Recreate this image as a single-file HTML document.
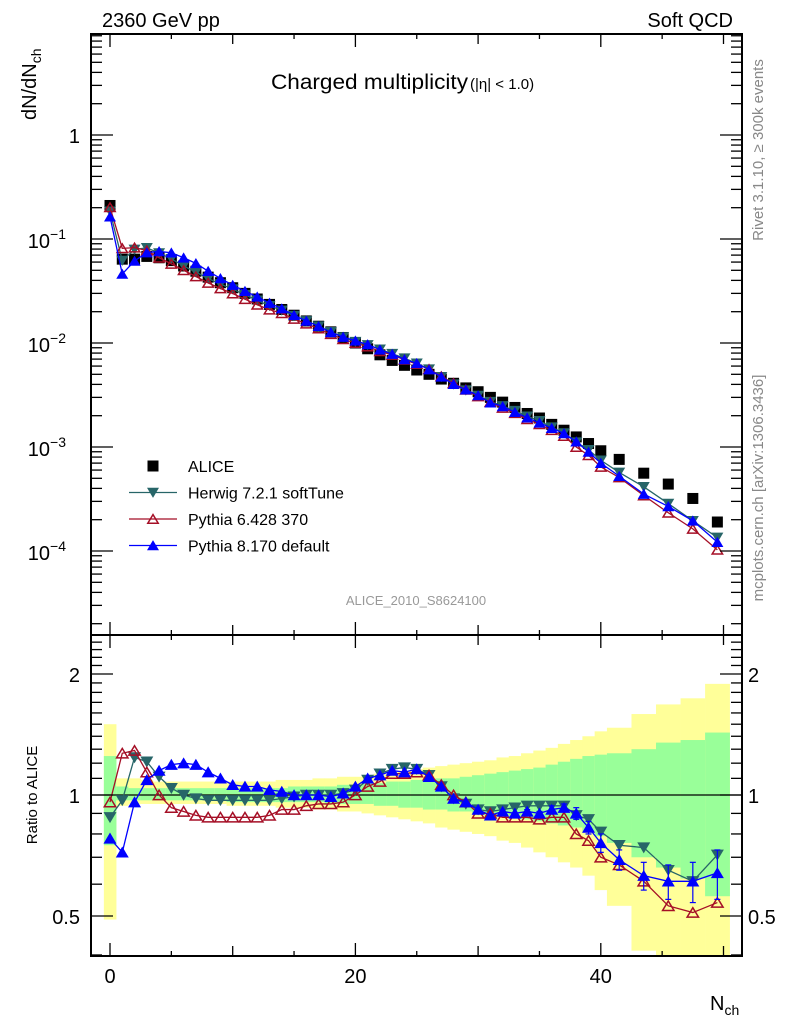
<!DOCTYPE html>
<html><head><meta charset="utf-8">
<style>
html,body{margin:0;padding:0;background:#fff;}
svg{display:block;font-family:"Liberation Sans",sans-serif;}
</style></head>
<body>
<svg id="chart" width="786" height="1024" viewBox="0 0 786 1024" xmlns="http://www.w3.org/2000/svg"></svg>
<script>
const binCenters=[0,1,2,3,4,5,6,7,8,9,10,11,12,13,14,15,16,17,18,19,20,21,22,23,24,25,26,27,28,29,30,31,32,33,34,35,36,37,38,39,40,41.5,43.5,45.5,47.5,49.5];
const binEdges=[-0.5,0.5,1.5,2.5,3.5,4.5,5.5,6.5,7.5,8.5,9.5,10.5,11.5,12.5,13.5,14.5,15.5,16.5,17.5,18.5,19.5,20.5,21.5,22.5,23.5,24.5,25.5,26.5,27.5,28.5,29.5,30.5,31.5,32.5,33.5,34.5,35.5,36.5,37.5,38.5,39.5,40.5,42.5,44.5,46.5,48.5,50.5];
const aliceValues=[0.21,0.064,0.064,0.068,0.066,0.062,0.055,0.049,0.043,0.038,0.034,0.030,0.0265,0.0235,0.021,0.0185,0.0163,0.0145,0.0128,0.0113,0.0100,0.0088,0.0077,0.0068,0.0061,0.0055,0.0050,0.0045,0.0041,0.0037,0.0034,0.0030,0.0027,0.0024,0.0021,0.0019,0.00165,0.00145,0.00125,0.00108,0.00092,0.00076,0.00056,0.00044,0.00032,0.00019];
const herwigRatio=[0.88,0.97,1.24,1.21,1.11,1.04,1.00,0.98,0.97,0.97,0.97,0.97,0.97,0.97,0.98,0.99,1.0,1.0,1.0,1.01,1.03,1.09,1.13,1.16,1.17,1.16,1.12,1.05,0.98,0.95,0.92,0.91,0.92,0.93,0.94,0.94,0.94,0.94,0.89,0.87,0.81,0.75,0.74,0.65,0.61,0.71];
const pythia6Ratio=[0.96,1.27,1.29,1.14,1.0,0.93,0.91,0.89,0.88,0.88,0.88,0.88,0.88,0.89,0.92,0.92,0.94,0.95,0.95,0.96,1.0,1.05,1.08,1.13,1.13,1.14,1.12,1.06,1.0,0.96,0.9,0.9,0.88,0.88,0.88,0.87,0.88,0.88,0.80,0.77,0.70,0.67,0.61,0.53,0.51,0.54];
const pythia8Ratio=[0.78,0.72,0.96,1.09,1.15,1.19,1.20,1.19,1.14,1.10,1.06,1.05,1.05,1.03,1.02,1.0,1.0,1.0,0.99,1.01,1.05,1.10,1.12,1.15,1.14,1.16,1.11,1.05,0.98,0.96,0.92,0.89,0.91,0.90,0.91,0.90,0.92,0.93,0.90,0.83,0.76,0.69,0.63,0.61,0.61,0.64];
const yellowHi=[1.5,1.10,1.10,1.09,1.08,1.08,1.08,1.08,1.08,1.08,1.08,1.08,1.08,1.08,1.09,1.09,1.09,1.10,1.10,1.11,1.11,1.12,1.13,1.14,1.15,1.16,1.17,1.18,1.19,1.20,1.21,1.22,1.24,1.25,1.27,1.29,1.31,1.34,1.37,1.40,1.44,1.47,1.59,1.68,1.74,1.89];
const yellowLo=[0.49,0.94,0.95,0.95,0.95,0.95,0.95,0.95,0.95,0.95,0.94,0.94,0.94,0.94,0.93,0.93,0.93,0.92,0.92,0.91,0.91,0.90,0.89,0.88,0.87,0.86,0.85,0.83,0.82,0.81,0.80,0.79,0.77,0.76,0.74,0.72,0.70,0.68,0.66,0.63,0.58,0.53,0.41,0.3,0.3,0.3];
const greenHi=[1.25,1.05,1.04,1.04,1.04,1.04,1.04,1.04,1.04,1.04,1.04,1.04,1.04,1.04,1.04,1.05,1.05,1.05,1.05,1.06,1.06,1.07,1.07,1.08,1.08,1.09,1.09,1.10,1.10,1.11,1.12,1.13,1.14,1.15,1.16,1.17,1.19,1.21,1.23,1.25,1.26,1.27,1.30,1.35,1.37,1.43];
const greenLo=[0.75,0.97,0.97,0.97,0.97,0.97,0.97,0.97,0.97,0.97,0.96,0.96,0.96,0.96,0.96,0.96,0.96,0.96,0.95,0.95,0.95,0.95,0.94,0.94,0.93,0.93,0.92,0.92,0.91,0.91,0.90,0.89,0.89,0.88,0.87,0.86,0.85,0.84,0.83,0.81,0.79,0.76,0.70,0.66,0.62,0.56];
const p8Err=[0,0,0,0,0,0,0,0,0,0,0,0,0,0,0,0,0,0,0,0,0,0,0,0,0,0,0,0,0,0,0,0,0,0,0.01,0.01,0.02,0.02,0.03,0.03,0.04,0.04,0.05,0.06,0.07,0.09];
const xTicks=[0,20,40];
const mainDecades=[0,-1,-2,-3,-4];
const ratioTickLabels=["2","1","0.5"];
const ratioTickValues=[2,1,0.5];

const svg=document.getElementById('chart');
const NS='http://www.w3.org/2000/svg';
const L=91,R=742,MT=34,MB=635,RB=956;
function sx(v){return 110+(v)*12.27;}
function sy(v){return 135-104*Math.log10(v);}
function ry(v){return 795-402*Math.log10(v);}
function el(t,a,p){const e=document.createElementNS(NS,t);for(const k in a)e.setAttribute(k,a[k]);(p||svg).appendChild(e);return e;}
function txt(s,x,y,a,p){const e=el('text',Object.assign({x:x,y:y},a),p);e.textContent=s;return e;}

const defs=el('defs',{});
const c1=el('clipPath',{id:'cm'},defs);el('rect',{x:L,y:MT,width:R-L,height:MB-MT},c1);
const c2=el('clipPath',{id:'cr'},defs);el('rect',{x:L,y:MB,width:R-L,height:RB-MB},c2);

const bands=el('g',{'clip-path':'url(#cr)'});


for(let i=0;i<binCenters.length;i++){
  const x0=sx(binEdges[i]),x1=sx(binEdges[i+1]);
  const y=el('rect',{x:x0,y:ry(yellowHi[i]),width:x1-x0+0.3,height:ry(yellowLo[i])-ry(yellowHi[i]),fill:'#ffff99'},bands);
  
  
  const g=el('rect',{x:x0,y:ry(greenHi[i]),width:x1-x0+0.3,height:ry(greenLo[i])-ry(greenHi[i]),fill:'#99ff99'},bands);
  
  
}
const one=el('line',{x1:L,x2:R,y1:ry(1),y2:ry(1),stroke:'#000','stroke-width':1.2});



function marker(type,x,y,col,p,s){
  s=s||6;
  if(type==='square')return el('rect',{x:x-s,y:y-s,width:2*s,height:2*s,fill:'#000'},p);
  if(type==='down')return el('polygon',{points:`${x-s},${y-s*0.8} ${x+s},${y-s*0.8} ${x},${y+s*0.9}`,fill:col},p);
  if(type==='up')return el('polygon',{points:`${x-s},${y+s*0.8} ${x+s},${y+s*0.8} ${x},${y-s*0.9}`,fill:col},p);
  if(type==='open')return el('polygon',{points:`${x-s+0.8},${y+s*0.8-0.6} ${x+s-0.8},${y+s*0.8-0.6} ${x},${y-s*0.9+1}`,fill:'none',stroke:col,'stroke-width':1.5},p);
}
const series=[
 {name:'herwig',r:herwigRatio,col:'#276568',type:'down',err:false},
 {name:'pythia6',r:pythia6Ratio,col:'#a50f26',type:'open',err:false},
 {name:'pythia8',r:pythia8Ratio,col:'#0000ff',type:'up',err:true}];

const gm=el('g',{'clip-path':'url(#cm)'});


for(let i=0;i<binCenters.length;i++){
  const m=marker('square',sx(binCenters[i]),sy(aliceValues[i]),'#000',gm,5.5);
  
  
}
series.forEach(s=>{
  const g=el('g',{},gm);
  
  
  const pts=binCenters.map((c,i)=>sx(c)+','+sy(aliceValues[i]*s.r[i])).join(' ');
  el('polyline',{points:pts,fill:'none',stroke:s.col,'stroke-width':1.3},g);
  binCenters.forEach((c,i)=>{const m=marker(s.type,sx(c),sy(aliceValues[i]*s.r[i]),s.col,g);
    
    });
});
const gr=el('g',{'clip-path':'url(#cr)'});


series.forEach(s=>{
  const g=el('g',{},gr);
  
  
  el('polyline',{points:binCenters.map((c,i)=>sx(c)+','+ry(s.r[i])).join(' '),fill:'none',stroke:s.col,'stroke-width':1.3},g);
  binCenters.forEach((c,i)=>{
    if(s.err&&p8Err[i]>0){const x=sx(c),y1=ry(s.r[i]+p8Err[i]),y2=ry(s.r[i]-p8Err[i]);
      el('line',{x1:x,x2:x,y1:y1,y2:y2,stroke:s.col,'stroke-width':1.2},g);
      el('line',{x1:x-3,x2:x+3,y1:y1,y2:y1,stroke:s.col,'stroke-width':1.2},g);
      el('line',{x1:x-3,x2:x+3,y1:y2,y2:y2,stroke:s.col,'stroke-width':1.2},g);}
    const m=marker(s.type,sx(c),ry(s.r[i]),s.col,g,6.5);
    
    
  });
});

const fr=el('g',{stroke:'#000','stroke-width':2,fill:'none'});


el('rect',{x:L,y:MT,width:R-L,height:MB-MT},fr);
el('rect',{x:L,y:MB,width:R-L,height:RB-MB},fr);
const tk=el('g',{stroke:'#000','stroke-width':1.3});
for(let v=0;v<=50;v+=5){
  const x=sx(v),big=(v%20===0)?1:0,len=v%10===0?12:7;
  [[MT,1],[MB,-1],[MB,1],[RB,-1]].forEach(([y,d])=>el('line',{x1:x,x2:x,y1:y,y2:y+d*(big?13:len-2)},tk));
}
for(let d=-5;d<=0;d++){
  for(let m=1;m<=9;m++){
    const y=sy(m*Math.pow(10,d));
    if(y<MT||y>MB)continue;
    const len=m===1?22:11;
    el('line',{x1:L,x2:L+len,y1:y,y2:y},tk);
    el('line',{x1:R,x2:R-len,y1:y,y2:y},tk);
  }
}
[0.4,0.5,0.6,0.7,0.8,0.9,1,1.1,1.2,1.3,1.4,1.5,1.6,1.7,1.8,1.9,2,2.1,2.2,2.3,2.4,2.5].forEach(v=>{
  const y=ry(v);if(y<MB||y>RB)return;
  const len=(v===0.5||v===1||v===2)?22:11;
  el('line',{x1:L,x2:L+len,y1:y,y2:y},tk);
  el('line',{x1:R,x2:R-len,y1:y,y2:y},tk);
});

const lab=el('g',{'font-size':'20',fill:'#000'});
xTicks.forEach(v=>{const t=txt(String(v),sx(v),983,{'text-anchor':'middle'},lab);
  
  });
mainDecades.forEach(d=>{
  let t;
  if(d===0){t=txt('1',80,143,{'text-anchor':'end'},lab);}
  else{t=txt('10',66,sy(Math.pow(10,d))+9,{'text-anchor':'end'},lab);
    const e=el('tspan',{'font-size':'14',dy:'-9'},t);e.textContent='\u2212'+(-d);}
  
  
});
ratioTickValues.forEach((v,i)=>{
  const a=txt(ratioTickLabels[i],80,ry(v)+8,{'text-anchor':'end'},lab);
  
  
  const b=txt(ratioTickLabels[i],748,ry(v)+8,{'text-anchor':'start'},lab);
  
  
});

function named(e,n){return e;}
named(txt('2360 GeV pp',102,27,{'font-size':'20'}),'energy-label');
named(txt('Soft QCD',733,27,{'font-size':'20','text-anchor':'end'}),'process-label');
const ct=named(txt('Charged multiplicity',271,89,{'font-size':'21',textLength:'197',lengthAdjust:'spacingAndGlyphs'}),'plot-title');
const ct2=named(txt('(|\u03b7| < 1.0)',470,89,{'font-size':'15'}),'plot-title-eta');
const yt=named(txt('dN/dN',0,0,{'font-size':'20',transform:'translate(36,120) rotate(-90)'}),'y-axis-title');
const ys=el('tspan',{'font-size':'14',dy:'5'},yt);ys.textContent='ch';
named(txt('Ratio to ALICE',0,0,{'font-size':'15','text-anchor':'middle',transform:'translate(37,795) rotate(-90)'}),'ratio-axis-title');
const xt=named(txt('N',710,1010,{'font-size':'20'}),'x-axis-title');
const xs=el('tspan',{'font-size':'14',dy:'5'},xt);xs.textContent='ch';
named(txt('Rivet 3.1.10, \u2265 300k events',0,0,{'font-size':'15',fill:'#888','text-anchor':'middle',transform:'translate(763,150) rotate(-90)'}),'rivet-label');
named(txt('mcplots.cern.ch [arXiv:1306.3436]',0,0,{'font-size':'15',fill:'#888','text-anchor':'middle',transform:'translate(763,488) rotate(-90)'}),'mcplots-label');
named(txt('ALICE_2010_S8624100',416,605,{'font-size':'13',fill:'#999','text-anchor':'middle'}),'analysis-id-label');

const lg=named(el('g',{}),'legend');
const legItems=[['ALICE','square','#000'],['Herwig 7.2.1 softTune','down','#276568'],['Pythia 6.428 370','open','#a50f26'],['Pythia 8.170 default','up','#0000ff']];
legItems.forEach((it,i)=>{
  const y=466+i*26.5;
  const g=el('g',{},lg);
  
  
  if(i>0)el('line',{x1:129,x2:177,y1:y,y2:y,stroke:it[2],'stroke-width':1.3},g);
  marker(it[1],153,y,it[2],g,it[1]==='square'?5.5:6);
  txt(it[0],188,y+6,{'font-size':'16'},g);
});
</script>
</body></html>
